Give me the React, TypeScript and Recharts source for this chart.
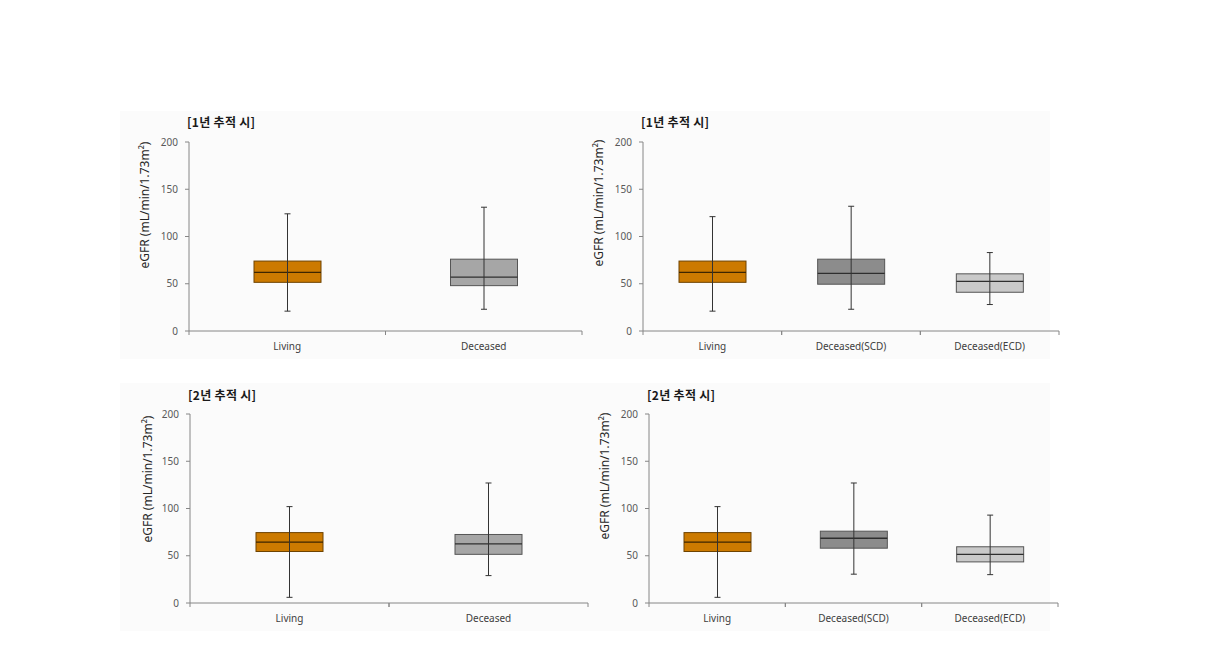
import React from 'react';
import { ComposedChart, Bar, XAxis, YAxis } from 'recharts';

// ---------- data ----------
const groupsTwo = ['Living', 'Deceased'];
const groupsThree = ['Living', 'Deceased(SCD)', 'Deceased(ECD)'];
const colorsTwo = ['#CC7A00', '#A6A6A6'];
const colorsThree = ['#CC7A00', '#8C8C8C', '#C9C9C9'];
const yTicks = [0, 50, 100, 150, 200];
const titleYear1 = '[1년 추적 시]';
const titleYear2 = '[2년 추적 시]';
const yLabel = 'eGFR (mL/min/1.73m²)';

// 1-year follow-up, Living vs Deceased
const y1TwoMin = [21, 23];
const y1TwoQ1 = [51.5, 48];
const y1TwoMed = [62, 57];
const y1TwoQ3 = [74, 76];
const y1TwoMax = [124, 131];

// 1-year follow-up, Living / SCD / ECD
const y1ThreeMin = [21, 23, 28];
const y1ThreeQ1 = [51.5, 49.5, 41];
const y1ThreeMed = [62, 61, 52.5];
const y1ThreeQ3 = [74, 76, 60.5];
const y1ThreeMax = [121, 132, 83];

// 2-year follow-up, Living vs Deceased
const y2TwoMin = [6, 29];
const y2TwoQ1 = [54.5, 51.5];
const y2TwoMed = [64.5, 62.5];
const y2TwoQ3 = [74.5, 72.5];
const y2TwoMax = [102, 127];

// 2-year follow-up, Living / SCD / ECD
const y2ThreeMin = [6, 30.5, 30];
const y2ThreeQ1 = [54.5, 58, 43.5];
const y2ThreeMed = [64.5, 68.5, 51.5];
const y2ThreeQ3 = [74.5, 76, 59.5];
const y2ThreeMax = [102, 127, 93];

const buildRows = (
  names: string[], colors: string[], mins: number[], q1s: number[], meds: number[], q3s: number[], maxs: number[]
) =>
  names.map((name, i) => ({
    name,
    fill: colors[i],
    min: mins[i],
    q1: q1s[i],
    med: meds[i],
    q3: q3s[i],
    max: maxs[i],
    box: [q1s[i], q3s[i]],
  }));

// ---------- drawing ----------
const BoxShape = (props: any) => {
  const { x, y, width, height, payload } = props;
  if (!payload) return null;
  const top = Math.min(y, y + height);
  const h = Math.abs(height);
  const { q1, q3, med, min, max, fill } = payload;
  const ppu = h / (q3 - q1);
  const toY = (v: number) => top + (q3 - v) * ppu;
  const cx = x + width / 2;
  const isOrange = fill === '#CC7A00';
  const edge = isOrange ? '#6E4300' : '#555555';
  const medColor = isOrange ? '#3D2600' : '#2E2E2E';
  const cap = 3;
  return (
    <g>
      <rect x={x} y={top} width={width} height={h} fill={fill} stroke={edge} strokeWidth={1} />
      <line x1={x} x2={x + width} y1={toY(med)} y2={toY(med)} stroke={medColor} strokeWidth={1.3} />
      <line x1={cx} x2={cx} y1={toY(max)} y2={toY(min)} stroke="#333333" strokeWidth={1} />
      <line x1={cx - cap} x2={cx + cap} y1={toY(max)} y2={toY(max)} stroke="#333333" strokeWidth={1} />
      <line x1={cx - cap} x2={cx + cap} y1={toY(min)} y2={toY(min)} stroke="#333333" strokeWidth={1} />
    </g>
  );
};

const CatTick = (props: any) => {
  const { x, y, payload } = props;
  const off = payload && payload.offset ? payload.offset : 0;
  return (
    <g>
      <line x1={x - off} x2={x - off} y1={y} y2={y + 4} stroke="#868686" />
      <line x1={x + off} x2={x + off} y1={y} y2={y + 4} stroke="#868686" />
      <text x={x} y={y + 15} dy="0.35em" textAnchor="middle" fontSize={10} fill="#404040"
        fontFamily="'Noto Sans', 'DejaVu Sans', sans-serif">
        {payload.value}
      </text>
    </g>
  );
};

type PanelProps = {
  rows: any[];
  plot: { left: number; top: number; right: number; bottom: number };
  title: string;
  titlePos: { x: number; y: number };
  ylabPos: { x: number; y: number };
  bg: { x: number; y: number; w: number; h: number };
};

const Y_AXIS_W = 40;
const X_AXIS_H = 30;

const Panel = ({ rows, plot, title, titlePos, ylabPos, bg }: PanelProps) => {
  const chartLeft = plot.left - 80;
  const chartTop = plot.top - 40;
  const width = plot.right - chartLeft + 20;
  const height = plot.bottom - chartTop + 50;
  const margin = {
    left: plot.left - chartLeft - Y_AXIS_W,
    top: plot.top - chartTop,
    right: chartLeft + width - plot.right,
    bottom: chartTop + height - plot.bottom - X_AXIS_H,
  };
  return (
    <>
      <div style={{ position: 'absolute', left: bg.x, top: bg.y, width: bg.w, height: bg.h, background: '#FBFBFB' }} />
      <div style={{ position: 'absolute', left: chartLeft, top: chartTop }}>
        <ComposedChart width={width} height={height} data={rows} margin={margin}>
          <XAxis
            dataKey="name"
            type="category"
            height={X_AXIS_H}
            axisLine={{ stroke: '#868686' }}
            tickLine={false}
            tickSize={0}
            tickMargin={0}
            interval={0}
            tick={<CatTick />}
          />
          <YAxis
            type="number"
            domain={[0, 200]}
            ticks={yTicks}
            width={Y_AXIS_W}
            axisLine={{ stroke: '#868686' }}
            tickLine={{ stroke: '#868686' }}
            tickSize={4}
            tickMargin={7}
            tick={{ fontSize: 10, fill: '#595959', fontFamily: "'Noto Sans', 'DejaVu Sans', sans-serif" }}
          />
          <Bar dataKey="box" barSize={67} isAnimationActive={false} shape={<BoxShape />} />
        </ComposedChart>
      </div>
      <div
        style={{
          position: 'absolute', left: titlePos.x, top: titlePos.y, fontSize: 12, fontWeight: 700, lineHeight: '16px',
          color: '#1a1a1a', fontFamily: "'Noto Sans CJK KR', 'Noto Sans', sans-serif", whiteSpace: 'nowrap',
          letterSpacing: '0.3px',
        }}
      >
        {title}
      </div>
      <div
        style={{
          position: 'absolute', left: ylabPos.x, top: ylabPos.y, transform: 'translate(-50%, -50%) rotate(-90deg)',
          fontSize: 12, lineHeight: '14px', color: '#262626', whiteSpace: 'nowrap',
          fontFamily: "'Noto Sans', 'DejaVu Sans', sans-serif",
        }}
      >
        {yLabel}
      </div>
    </>
  );
};

const rowsA = buildRows(groupsTwo, colorsTwo, y1TwoMin, y1TwoQ1, y1TwoMed, y1TwoQ3, y1TwoMax);
const rowsB = buildRows(groupsThree, colorsThree, y1ThreeMin, y1ThreeQ1, y1ThreeMed, y1ThreeQ3, y1ThreeMax);
const rowsC = buildRows(groupsTwo, colorsTwo, y2TwoMin, y2TwoQ1, y2TwoMed, y2TwoQ3, y2TwoMax);
const rowsD = buildRows(groupsThree, colorsThree, y2ThreeMin, y2ThreeQ1, y2ThreeMed, y2ThreeQ3, y2ThreeMax);

export default function App() {
  return (
    <div style={{ position: 'absolute', left: 0, top: 0, width: 1213, height: 648, background: '#ffffff', overflow: 'hidden' }}>
      <Panel rows={rowsA} plot={{ left: 189, top: 142, right: 582, bottom: 331 }} title={titleYear1}
        titlePos={{ x: 187, y: 114 }} ylabPos={{ x: 145, y: 205 }} bg={{ x: 120, y: 111, w: 478, h: 248 }} />
      <Panel rows={rowsB} plot={{ left: 643, top: 142, right: 1059, bottom: 331 }} title={titleYear1}
        titlePos={{ x: 641, y: 114 }} ylabPos={{ x: 599, y: 203 }} bg={{ x: 598, y: 111, w: 452, h: 248 }} />
      <Panel rows={rowsC} plot={{ left: 190, top: 414, right: 588, bottom: 603 }} title={titleYear2}
        titlePos={{ x: 188, y: 387 }} ylabPos={{ x: 148, y: 479 }} bg={{ x: 120, y: 383, w: 478, h: 248 }} />
      <Panel rows={rowsD} plot={{ left: 649, top: 414, right: 1058, bottom: 603 }} title={titleYear2}
        titlePos={{ x: 647, y: 387 }} ylabPos={{ x: 605, y: 476 }} bg={{ x: 598, y: 383, w: 452, h: 248 }} />
    </div>
  );
}
